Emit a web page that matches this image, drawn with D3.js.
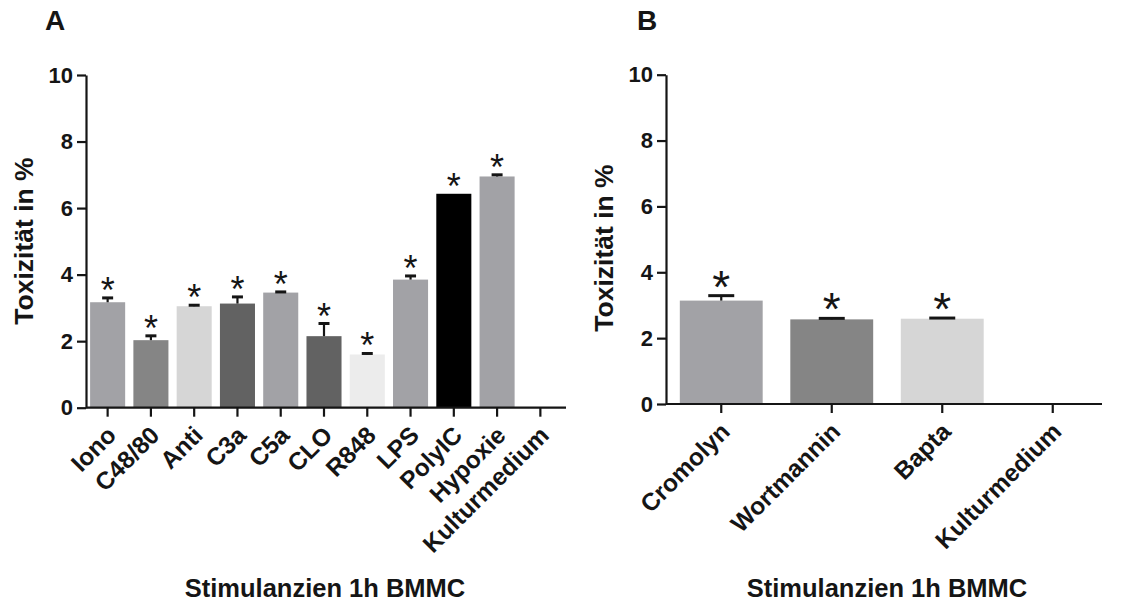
<!DOCTYPE html>
<meta charset="utf-8">
<script src="https://cdn.jsdelivr.net/npm/d3@7"></script>
<style>
body { margin: 0; background: #fff; }
text { font-family: "Liberation Sans", Arial, sans-serif; font-weight: bold; fill: #151515; }
.axis path, .axis line { stroke: #151515; stroke-width: 2.2px; }
</style>
<body></body>
<script>
// Panel A
var catsA = ["Iono", "C48/80", "Anti", "C3a", "C5a", "CLO", "R848", "LPS", "PolyIC", "Hypoxie", "Kulturmedium"];
var valsA = [3.17, 2.03, 3.05, 3.13, 3.46, 2.15, 1.60, 3.85, 6.43, 6.95, 0];
var errA  = [0.13, 0.13, 0.03, 0.20, 0.02, 0.38, 0.03, 0.11, 0, 0.05, 0];
var colA  = ["#a2a2a6", "#858585", "#d6d6d6", "#626262", "#a2a2a6", "#626262", "#ececec", "#a2a2a6", "#000000", "#a2a2a6", "#ffffff"];
var sigA  = [1, 1, 1, 1, 1, 1, 1, 1, 1, 1, 0];

// Panel B
var catsB = ["Cromolyn", "Wortmannin", "Bapta", "Kulturmedium"];
var valsB = [3.14, 2.57, 2.59, 0];
var errB  = [0.15, 0.03, 0.02, 0];
var colB  = ["#a2a2a6", "#858585", "#d6d6d6", "#ffffff"];
var sigB  = [1, 1, 1, 0];

var yTicks = [0, 2, 4, 6, 8, 10];
var yTitle = "Toxizität in %";
var xTitle = "Stimulanzien 1h BMMC";

var svg = d3.select("body").append("svg")
    .attr("width", 1132)
    .attr("height", 602);

function panel(o) {
  var g = svg.append("g");
  var rows = o.cats.map(function(c, i) {
    return {cat: c, val: o.vals[i], err: o.errs[i], col: o.cols[i], sig: o.sig[i]};
  });

  var x = d3.scaleBand()
      .domain(o.cats)
      .range([o.x0, o.x1])
      .paddingInner(o.pad)
      .paddingOuter(o.pad / 2);

  var y = d3.scaleLinear()
      .domain([0, 10])
      .range([o.y0, o.y1]);

  var cx = function(d) { return x(d.cat) + x.bandwidth() / 2; };

  // bars
  g.selectAll(".bar").data(rows).enter().append("rect")
      .attr("x", function(d) { return x(d.cat); })
      .attr("y", function(d) { return y(d.val); })
      .attr("width", x.bandwidth())
      .attr("height", function(d) { return y(0) - y(d.val); })
      .attr("fill", function(d) { return d.col; });

  // error bars, only upwards
  var eg = g.selectAll(".err").data(rows.filter(function(d) { return d.err > 0; }))
      .enter().append("g");
  eg.append("line")
      .attr("x1", cx).attr("x2", cx)
      .attr("y1", function(d) { return y(d.val); })
      .attr("y2", function(d) { return y(d.val + d.err); })
      .attr("stroke", "#151515").attr("stroke-width", 2.2);
  eg.append("line")
      .attr("x1", function(d) { return cx(d) - o.cap / 2; })
      .attr("x2", function(d) { return cx(d) + o.cap / 2; })
      .attr("y1", function(d) { return y(d.val + d.err); })
      .attr("y2", function(d) { return y(d.val + d.err); })
      .attr("stroke", "#151515").attr("stroke-width", 3);

  // stars
  g.selectAll(".star").data(rows.filter(function(d) { return d.sig; }))
    .enter().append("text")
      .attr("x", cx)
      .attr("y", function(d) { return y(d.val + d.err) + o.starOff; })
      .attr("text-anchor", "middle")
      .style("font-weight", "normal")
      .style("font-size", o.starSize + "px")
      .text("*");

  // y axis
  var ya = g.append("g")
      .attr("class", "axis")
      .attr("transform", "translate(" + o.x0 + ",0)")
      .call(d3.axisLeft(y).tickValues(yTicks).tickSize(9).tickPadding(4).tickSizeOuter(0));
  ya.selectAll("text").style("font-size", "22px");

  // x axis
  var xa = g.append("g")
      .attr("class", "axis")
      .attr("transform", "translate(0," + o.y0 + ")")
      .call(d3.axisBottom(x).tickSize(9).tickSizeOuter(0).tickFormat(""));
  xa.select(".domain").attr("d", "M" + o.x0 + ",0H" + o.xEnd);

  xa.selectAll(".tick").append("text")
      .attr("transform", "translate(4,23) rotate(-45)")
      .attr("text-anchor", "end")
      .attr("dy", "0.35em")
      .style("font-size", "24.5px")
      .text(function(d) { return d; });

  g.append("text")
      .attr("transform", "translate(" + o.yLabX + "," + o.yLabY + ") rotate(-90)")
      .attr("text-anchor", "middle")
      .attr("dy", "0.35em")
      .style("font-size", "26.5px")
      .text(yTitle);

  g.append("text")
      .attr("x", o.titleX)
      .attr("y", 597)
      .attr("text-anchor", "middle")
      .style("font-size", "25.5px")
      .text(xTitle);

  g.append("text")
      .attr("x", o.letterX)
      .attr("y", 30)
      .style("font-size", "28px")
      .text(o.letter);
}

panel({
  cats: catsA, vals: valsA, errs: errA, cols: colA, sig: sigA,
  x0: 86, x1: 562, xEnd: 566, pad: 0.19, y0: 407.7, y1: 75,
  cap: 11, starSize: 36, starOff: 5,
  yLabX: 24, yLabY: 241, titleX: 325, letterX: 45, letter: "A"
});

panel({
  cats: catsB, vals: valsB, errs: errB, cols: colB, sig: sigB,
  x0: 666, x1: 1108, xEnd: 1102, pad: 0.25, y0: 404, y1: 74.7,
  cap: 26, starSize: 46, starOff: 7,
  yLabX: 604, yLabY: 248, titleX: 887, letterX: 637, letter: "B"
});
</script>
